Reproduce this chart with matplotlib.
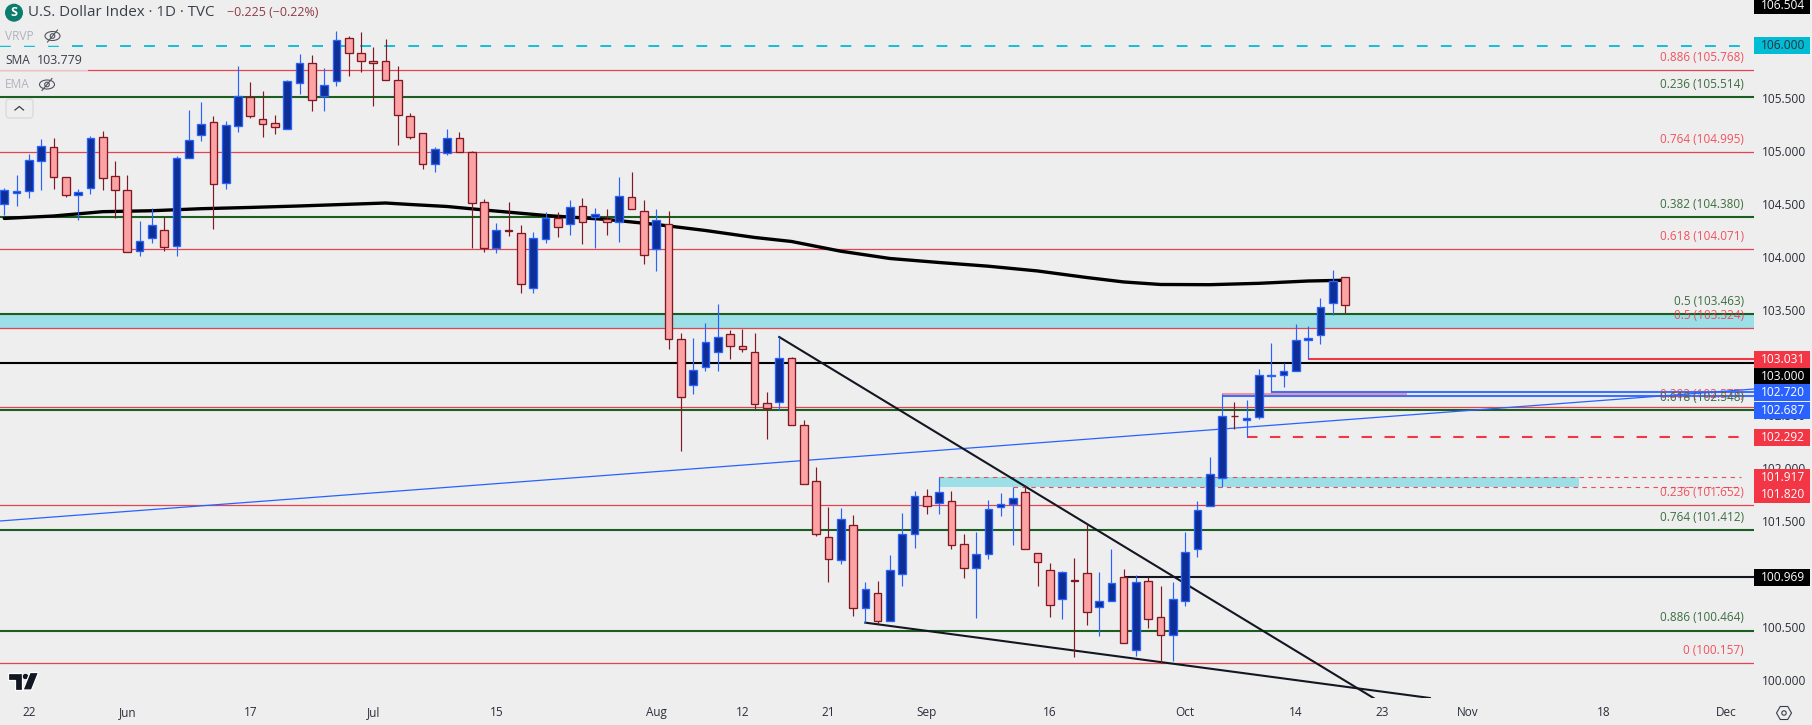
import matplotlib
matplotlib.use("Agg")
import matplotlib.pyplot as plt
from matplotlib.patches import Rectangle, Circle, Ellipse, Polygon, FancyBboxPatch
import numpy as np

plt.rcParams['font.family'] = ['Open Sans', 'DejaVu Sans']

directions = ("UUUUDDUUDD" "DUUDUUUDUU" "DDDUUDUUDD" "DDDDDUUDDD" "UDDUUDUDUD"
              "UDDUDDUUUD" "DDDUDDDDUD" "UDUUUDUDDU" "UUUDDDUDDU" "UDUDDUUUUU" "DUUUUUUUUD")

highs = [104.649,104.775,104.974,105.116,105.125,104.753,104.640,105.144,105.191,104.908,
         104.775,104.340,104.460,104.378,104.955,105.390,105.466,105.333,105.286,105.807,
         105.655,105.570,105.343,105.674,105.920,105.907,105.788,106.138,106.090,106.128,
         105.986,106.062,105.807,105.359,105.169,105.043,105.210,105.182,104.999,104.545,
         104.318,104.520,104.299,104.233,104.422,104.422,104.539,104.554,104.460,104.450,
         104.756,104.804,104.535,104.450,104.435,103.277,103.230,103.372,103.551,103.305,
         103.318,103.277,102.719,103.239,103.050,102.457,102.009,101.631,101.621,101.555,
         100.921,100.931,101.176,101.574,101.782,101.801,101.914,101.782,101.375,101.394,
         101.697,101.763,101.820,101.839,101.195,101.101,101.025,101.148,101.470,101.016,
         101.233,101.044,100.987,100.968,100.883,100.921,101.394,101.687,102.104,102.700,
         102.624,102.643,102.936,103.182,102.999,103.362,103.343,103.608,103.873,103.807]

body_tops = [104.630,104.621,104.914,105.046,105.037,104.753,104.611,105.122,105.132,104.763,
             104.630,104.148,104.299,104.252,104.933,105.103,105.255,105.274,105.245,105.519,
             105.510,105.302,105.264,105.661,105.832,105.832,105.624,106.049,106.068,105.926,
             105.851,105.851,105.671,105.330,105.169,105.018,105.122,105.122,104.990,104.517,
             104.252,104.255,104.223,104.176,104.365,104.365,104.469,104.479,104.403,104.356,
             104.573,104.564,104.431,104.346,104.308,103.220,102.927,103.192,103.239,103.268,
             103.154,103.097,102.615,103.040,103.040,102.406,101.877,101.347,101.517,101.460,
             100.855,100.817,101.035,101.375,101.735,101.735,101.773,101.687,101.281,101.186,
             101.612,101.659,101.716,101.773,101.195,101.035,101.016,100.940,101.006,100.741,
             100.911,100.968,100.921,100.931,100.590,100.760,101.205,101.602,101.943,102.492,
             102.495,102.473,102.880,102.883,102.917,103.211,103.230,103.523,103.769,103.807]

body_bottoms = [104.498,104.602,104.621,104.904,104.753,104.583,104.583,104.649,104.744,104.630,
                104.043,104.053,104.176,104.091,104.100,104.933,105.150,104.687,104.696,105.236,
                105.330,105.255,105.226,105.207,105.642,105.482,105.519,105.661,105.926,105.851,
                105.832,105.671,105.340,105.132,104.876,104.876,104.986,104.990,104.507,104.081,
                104.081,104.248,103.741,103.703,104.166,104.280,104.308,104.327,104.375,104.327,
                104.327,104.450,104.015,104.072,103.220,102.671,102.785,102.955,103.097,103.154,
                103.126,102.605,102.567,102.624,102.406,101.848,101.375,101.139,101.129,100.675,
                100.675,100.552,100.552,100.997,101.375,101.640,101.668,101.271,101.053,101.053,
                101.186,101.631,101.659,101.233,101.110,100.703,100.760,100.937,100.637,100.684,
                100.741,100.344,100.278,100.571,100.419,100.419,100.741,101.233,101.640,101.905,
                102.492,102.460,102.482,102.876,102.880,102.917,103.211,103.258,103.561,103.542]

lows = [104.397,104.485,104.561,104.636,104.646,104.570,104.346,104.599,104.636,104.371,
        104.043,104.006,104.135,104.059,104.006,104.933,105.100,104.267,104.646,105.185,
        105.318,105.138,105.166,105.207,105.545,105.384,105.384,105.620,105.715,105.753,
        105.431,105.671,105.062,105.113,104.835,104.807,104.964,104.990,104.088,104.050,
        104.040,104.201,103.662,103.662,104.135,104.192,104.211,104.125,104.088,104.207,
        104.144,104.450,103.936,103.870,103.132,102.167,102.706,102.924,102.924,103.037,
        103.104,102.558,102.280,102.548,102.406,101.848,101.363,100.927,101.094,100.606,
        100.533,100.527,100.552,100.889,101.249,101.571,101.568,101.240,100.965,100.587,
        101.145,101.552,101.274,101.233,100.889,100.596,100.577,100.218,100.520,100.416,
        100.741,100.344,100.224,100.492,100.158,100.177,100.700,101.164,101.640,101.820,
        102.372,102.299,102.466,102.719,102.769,102.917,103.037,103.179,103.454,103.466]

sma_index = [0,4,8,12,16,20,24,28,31,33,36,39,44,49,53,57,61,64,68,72,76,80,84,88,91,94,98,102,106,109]
sma_values = [104.364,104.387,104.428,104.437,104.456,104.468,104.482,104.498,104.510,104.496,
              104.477,104.444,104.392,104.354,104.307,104.250,104.184,104.146,104.054,103.985,
              103.947,103.912,103.867,103.805,103.763,103.739,103.737,103.750,103.772,103.779]

fib_red_ratios = ["0.886","0.764","0.618","0.5","0.382","0.236","0"]
fib_red_prices = [105.768,104.995,104.071,103.324,102.577,101.652,100.157]
fib_green_ratios = ["0.236","0.382","0.5","0.618","0.764","0.886"]
fib_green_prices = [105.514,104.380,103.463,102.548,101.412,100.464]

falling_line_index = [63, 111.4]
falling_line_price = [103.242, 99.82]
support_line_index = [70, 115.9]
support_line_price = [100.539, 99.826]
rising_line_index = [-0.35, 142.25]
rising_line_price = [101.501, 102.750]

tick_index = [2,10,20,30,40,53,60,67,75,85,96,105,112,119,130,140]
tick_labels = ["22","Jun","17","Jul","15","Aug","12","21","Sep","16","Oct","14","23","Nov","18","Dec"]
price_ticks = [100.0,100.5,101.0,101.5,102.0,102.5,103.0,103.5,104.0,104.5,105.0,105.5]

tag_values = [106.504,106.000,103.031,103.000,102.720,102.687,102.292,101.917,101.820,100.969]
tag_labels = ["106.504","106.000","103.031","103.000","102.720","102.687","102.292","101.917","101.820","100.969"]

# ---- style ----
BG = '#EEEEEE'
UP_FILL, UP_EDGE = '#0D2F96', '#2962FF'
DN_FILL, DN_EDGE = '#FCA3A6', '#801922'
RED, GREEN, BLUE, CYAN, ZONE = '#E5444F', '#1B5E20', '#2962FF', '#00BCD4', '#9CDFE6'
INK = '#2A2E39'
PX = 0.72  # points per pixel at dpi 100
W, H, PANE_W, PANE_H = 1812, 725, 1754, 698

fig = plt.figure(figsize=(W/100, H/100), dpi=100, facecolor=BG)
ax = fig.add_axes([0, 1-PANE_H/H, PANE_W/W, PANE_H/H], facecolor=BG)
ax.set_xlim(-0.35, 142.25)
ax.set_ylim(99.826, 106.431)
for s in ax.spines.values():
    s.set_visible(False)

ax.set_xticks(tick_index, tick_labels)
ax.yaxis.tick_right()
ax.set_yticks(price_ticks, [f"{p:.3f}" for p in price_ticks])
ax.tick_params(axis='x', length=0, pad=5.5, labelsize=8.5, labelcolor=INK)
ax.tick_params(axis='y', length=0, pad=6.0, labelsize=8.6, labelcolor=INK)

x_end = 142.25
# zones
ax.add_patch(Rectangle((-0.35, 103.324), x_end+0.35, 103.463-103.324, fc=ZONE, ec='none', zorder=1))
ax.add_patch(Rectangle((76, 101.820), 128-76, 101.917-101.820, fc=ZONE, ec='none', zorder=1))

# fib levels
for p in fib_red_prices:
    ax.axhline(p, color=RED, lw=0.9, zorder=2)
for p in fib_green_prices:
    ax.axhline(p, color=GREEN, lw=1.5, zorder=2)
lab_x = 1744/PANE_W
for r, p in zip(fib_red_ratios, fib_red_prices):
    ax.annotate(f"{r} ({p:.3f})", xy=(lab_x, p), xycoords=ax.get_yaxis_transform(),
                xytext=(0, 12.6*PX), textcoords='offset points', ha='right', va='center',
                fontsize=8.5, color='#F23645', alpha=0.85, zorder=3)
for r, p in zip(fib_green_ratios, fib_green_prices):
    ax.annotate(f"{r} ({p:.3f})", xy=(lab_x, p), xycoords=ax.get_yaxis_transform(),
                xytext=(0, 12.6*PX), textcoords='offset points', ha='right', va='center',
                fontsize=8.5, color='#3B6E3F', zorder=3)

# horizontal drawings
ax.hlines(103.000, -0.35, x_end, color='black', lw=1.5, zorder=2)
ax.hlines(103.031, 106, x_end, color='#F23645', lw=1.5, zorder=2)
ax.hlines(100.969, 91, x_end, color='#131722', lw=1.5, zorder=2)
ax.hlines(102.702, 99, 114, color='#F4949C', lw=1.5, zorder=2)
ax.hlines(102.720, 103, x_end, color=BLUE, lw=1.5, alpha=0.9, zorder=2)
ax.hlines(102.687, 99, x_end, color=BLUE, lw=1.5, alpha=0.9, zorder=2)
ax.plot([101, 141.2], [102.292, 102.292], color='#F23645', lw=1.5, dashes=(5, 6),
        dash_capstyle='butt', zorder=2)
ax.plot([-0.35, 141.2], [106.0, 106.0], color=CYAN, lw=1.3, dashes=(6, 7.3),
        dash_capstyle='butt', zorder=2)
ax.plot([76, 141.2], [101.917, 101.917], color='#E5505B', lw=0.8, dashes=(4, 4), dash_capstyle='butt', zorder=2)
ax.plot([82, 141.2], [101.820, 101.820], color='#E5505B', lw=0.8, dashes=(4, 4), dash_capstyle='butt', zorder=2)

# trend lines
ax.plot(rising_line_index, rising_line_price, color=BLUE, lw=0.9, zorder=3)
ax.plot(falling_line_index, falling_line_price, color='#131722', lw=1.5, zorder=3)
ax.plot(support_line_index, support_line_price, color='#131722', lw=1.5, zorder=3)
ax.plot(sma_index, sma_values, color='black', lw=2.4, zorder=3, solid_capstyle='round',
        solid_joinstyle='round')

# candles
idx = np.arange(len(highs))
ups = np.array([d == 'U' for d in directions])
tops, bots = np.array(body_tops), np.array(body_bottoms)
hi, lo = np.array(highs), np.array(lows)
for mask, fill, edge in ((ups, UP_FILL, UP_EDGE), (~ups, DN_FILL, DN_EDGE)):
    ax.vlines(idx[mask], lo[mask], hi[mask], color=edge, lw=0.85, zorder=4)
    ax.bar(idx[mask], (tops-bots)[mask], bottom=bots[mask], width=0.62, color=fill,
           edgecolor=edge, linewidth=0.95, zorder=5)

# ---- pixel overlay for price tags and chart furniture ----
ov = fig.add_axes([0, 0, 1, 1], facecolor='none', zorder=10)
ov.set_xlim(0, W)
ov.set_ylim(H, 0)
ov.axis('off')

def y_px(price):
    return H - ax.transData.transform((0, price))[1]

tag_shift = {106.504: 13.7, 103.000: 14.2, 102.687: 15.2, 101.820: 7.4}
tag_fill = {106.504: '#000000', 106.000: CYAN, 103.031: '#F23645', 103.000: '#000000',
            102.720: BLUE, 102.687: BLUE, 102.292: '#F23645', 101.917: '#F23645',
            101.820: '#F23645', 100.969: '#000000'}
for v, lab in zip(tag_values, tag_labels):
    yc = y_px(v) + tag_shift.get(v, 0)
    ov.add_patch(Rectangle((1754, yc-8.5), 56, 17, fc=tag_fill[v], ec='none', zorder=2))
    ov.text(1783.3, yc, lab, ha='center', va='center', fontsize=8.6,
            color=INK if v == 106.000 else 'white', zorder=3)

# legend backdrops
for x0, y0, x1, y1 in ((0, 26, 66, 46), (0, 51, 88, 71), (0, 74, 60, 95)):
    ov.add_patch(Rectangle((x0, y0), x1-x0, y1-y0, fc=BG, ec='none', alpha=0.75, zorder=1))

# header
ov.add_patch(Circle((14, 12.7), 9, fc='#0C7C6C', ec='none'))
ov.text(14, 12.3, "S", color='white', fontsize=9, fontweight='bold', ha='center', va='center')
ov.text(27.5, 12.7, "U.S. Dollar Index · 1D · TVC", color='#3A3E49', fontsize=10.9, ha='left', va='center')
ov.text(227, 12.7, "−0.225 (−0.22%)", color='#8E3A46', fontsize=8.9, ha='left', va='center')
ov.text(5, 36, "VRVP", color='#B0B3BA', fontsize=8.6, ha='left', va='center')
ov.text(5, 60.5, "SMA", color='#3A3E49', fontsize=8.6, ha='left', va='center')
ov.text(36.5, 60.5, "103.779", color='#3A3E49', fontsize=8.9, ha='left', va='center')
ov.text(5, 84.5, "EMA", color='#B0B3BA', fontsize=8.6, ha='left', va='center')
for cx, cy in ((52.5, 36), (47, 84.5)):
    ov.add_patch(Ellipse((cx, cy), 15, 9, fc='none', ec='#50535E', lw=0.8))
    ov.add_patch(Circle((cx, cy), 2.3, fc='none', ec='#50535E', lw=0.8))
    ov.plot([cx-5, cx+5], [cy+6, cy-6], color='#50535E', lw=0.8)
ov.add_patch(FancyBboxPatch((6, 99), 27, 19, boxstyle="round,pad=0,rounding_size=3",
                            fc='none', ec='#D8D9DD', lw=0.9))
ov.plot([15, 19.3, 23.5], [110, 106.5, 110], color='#3A3E49', lw=0.9)

# tradingview mark
ov.add_patch(Polygon([(8, 672.5), (21.5, 672.5), (21.5, 690), (14.5, 690), (14.5, 680), (8, 680)],
                     fc='#131722', ec='white', lw=0.9))
ov.add_patch(Circle((25.5, 676.5), 3.2, fc='#131722', ec='white', lw=0.6))
ov.add_patch(Polygon([(30, 672.5), (38.5, 672.5), (31.5, 690), (23, 690)], fc='#131722', ec='white', lw=0.9))

# settings glyph
a = np.deg2rad(np.arange(0, 360, 60))
ov.add_patch(Polygon(np.c_[1784+7.5*np.cos(a), 713+7.5*np.sin(a)], fc='none', ec='#3A3E49', lw=0.8))
ov.add_patch(Circle((1784, 713), 2.2, fc='none', ec='#3A3E49', lw=0.8))

fig.savefig("out.png", dpi=100, facecolor=BG)
